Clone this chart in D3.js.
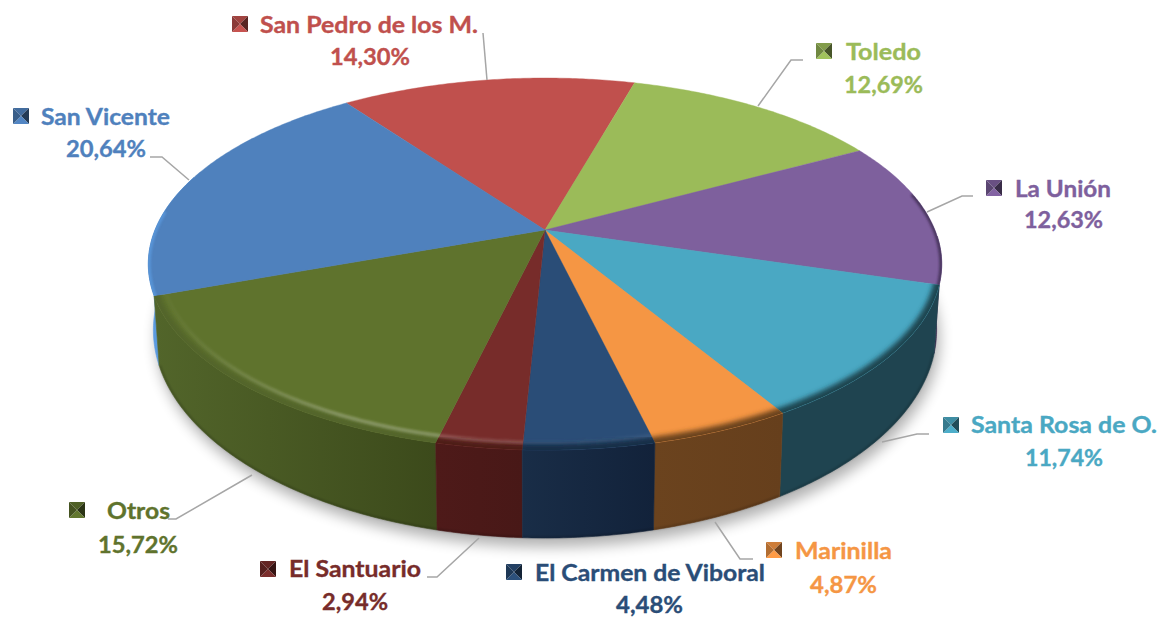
<!DOCTYPE html>
<html><head><meta charset="utf-8">
<script src="https://cdn.jsdelivr.net/npm/d3@7/dist/d3.min.js"></script>
<style>html,body{margin:0;background:#fff}svg{display:block}text{font-family:Lato,"Open Sans",sans-serif;font-weight:700;stroke-width:.35px}</style>
</head><body><svg id="c" width="1159" height="619"></svg>
<script>
// ---- data (clockwise, starting from San Pedro) ----
const categories = ["San Pedro de los M.","Toledo","La Unión","Santa Rosa de O.","Marinilla","El Carmen de Viboral","El Santuario","Otros","San Vicente"];
const values = [14.30,12.69,12.63,11.74,4.87,4.48,2.94,15.72,20.64];
const valueLabels = ["14,30%","12,69%","12,63%","11,74%","4,87%","4,48%","2,94%","15,72%","20,64%"];
const colors = ["#C0504D","#9BBB59","#7E609D","#4AA8C3","#F59644","#2A4D77","#772C2A","#5F732D","#4F81BD"];
// ---- wall / bevel styling per slice ----
const wallFrom = ["","","#3a2a4e","#1F4450","#6B431E","#192D47","#4E1A19","#52652A","#5B9BE0"];
const wallTo   = ["","","#3a2a4e","#1F4450","#663F1C","#12223A","#481817","#3C4A1B","#5B9BE0"];
const glow     = [0,0,0,0,0,0.05,0.16,0.24,0];
// ---- label layout: key x, key y, name x, name right, name baseline, value left, value right, value baseline ----
const layout = [
 [232,16,260,478,33,330,410,65],
 [816,43,846,921,60,844,923,93],
 [986,180,1015,1111,197,1024,1103,228],
 [943,417,971,1157,433,1025,1103,466],
 [766,542,795,892,559,810,877,593],
 [506,564,535,765,581,616,683,613],
 [260,561,289,421,577,322,388,610],
 [69,502,107,170,519,98,178,553],
 [13,108,41,170,125,66,146,157]
];
const leaders = [
 [[483,33],[487,80]],
 [[803,60],[791,60],[758,106]],
 [[973,196],[962,196],[927,212]],
 [[929,434],[917,434],[882,442]],
 [[753,559],[740,559],[715,522]],
 [[427,577],[437,577],[479,538]],
 [[168,519],[176,519],[252,475]],
 [[150,157],[162,157],[189,180]]
];
// ---- projection of the disc (perspective) ----
const persp = 0.183;
const topU = d3.scaleLinear().domain([-1,1]).range([545-390,545+390]);
const topV = d3.scaleLinear().domain([-1,1]).range([230-179.8,230+179.8]);
const botU = d3.scaleLinear().domain([-1,1]).range([545-385,545+385]);
const botV = d3.scaleLinear().domain([-1,1]).range([292-201,292+201]);
function proj(U,V,a,r=1){
  const u=r*Math.sin(a), v=-r*Math.cos(a), w=1-persp*v;
  return [U(0)+(U(u)-U(0))/w, V(0)+(V(v)-V(0))/w];
}
const T=(a,r)=>proj(topU,topV,a,r), B=(a,r)=>proj(botU,botV,a,r);
const arcSteps=(a0,a1)=>{const n=Math.max(2,Math.ceil(Math.abs(a1-a0)/0.01));return d3.range(n+1).map(i=>a0+(a1-a0)*i/n)};
const line=d3.line();
const rad=d=>d*Math.PI/180;

const start=rad(-35.8);
const slices=d3.pie().value(d=>d).sort(null).startAngle(start).endAngle(start+2*Math.PI)(values);
const svg=d3.select("#c");
const defs=svg.append("defs");
[["b1",1.1],["b2",2.4],["b8",7]].forEach(([id,s])=>defs.append("filter").attr("id",id)
  .attr("x","-20%").attr("y","-20%").attr("width","140%").attr("height","140%")
  .append("feGaussianBlur").attr("stdDeviation",s));
const gl=defs.append("linearGradient").attr("id","glowFade").attr("gradientUnits","userSpaceOnUse")
  .attr("x1",170).attr("x2",340).attr("y1",0).attr("y2",0);
gl.append("stop").attr("offset",0).attr("stop-color","#fff").attr("stop-opacity",.1);
gl.append("stop").attr("offset",1).attr("stop-color","#fff").attr("stop-opacity",1);

// shadow under the pie
svg.append("path").attr("d",line(arcSteps(0,2*Math.PI).map(a=>{const p=B(a,1);return [p[0]+3,p[1]+9]}))+"Z")
  .attr("fill","#000").attr("opacity",.3).attr("filter","url(#b8)");

// side walls
const visibleFrom=rad(92), visibleTo=rad(288);
const order=[8,7,2,3,4,6,5];
order.forEach(i=>{
  const s=slices[i];
  let a0=Math.max(s.startAngle,visibleFrom), a1=Math.min(s.endAngle,visibleTo);
  const g=defs.append("linearGradient").attr("id","w"+i).attr("gradientUnits","userSpaceOnUse")
    .attr("x1",Math.min(T(a0)[0],T(a1)[0])).attr("x2",Math.max(T(a0)[0],T(a1)[0])).attr("y1",0).attr("y2",0);
  g.append("stop").attr("offset",0).attr("stop-color",wallFrom[i]);
  g.append("stop").attr("offset",1).attr("stop-color",wallTo[i]);
  const ang=arcSteps(a0,a1);
  const pts=ang.map(a=>T(a)).concat(ang.slice().reverse().map(a=>B(a)));
  svg.append("path").attr("d",line(pts)+"Z").attr("fill",`url(#w${i})`).attr("stroke",`url(#w${i})`).attr("stroke-width",.6);
  if(i!==8&&i!==2) svg.append("path").attr("d",line(ang.map(a=>B(a,.998)))).attr("fill","none")
    .attr("stroke","#000").attr("stroke-opacity",.2).attr("stroke-width",2).attr("filter","url(#b1)");
});

// top face
const sliceD=s=>line([T(0,0)].concat(arcSteps(s.startAngle,s.endAngle).map(a=>T(a))))+"Z";
slices.forEach((s,i)=>{
  svg.append("path").attr("d",sliceD(s)).attr("fill",colors[i]).attr("stroke",colors[i]).attr("stroke-width",.4);
  defs.append("clipPath").attr("id","c"+i).append("path").attr("d",sliceD(s));
});
// bevel band along the rim
slices.forEach((s,i)=>{
  if(!wallFrom[i]) return;
  const g=svg.append("g").attr("clip-path",`url(#c${i})`);
  const thin=(i===2||i===8);
  const a0=i===2?rad(78):s.startAngle-.05, a1=i===8?rad(276):s.endAngle+.05;
  g.append("path").attr("d",line(arcSteps(a0,a1).map(a=>T(a)))).attr("fill","none")
    .attr("stroke",wallFrom[i]).attr("stroke-width",thin?5:12)
    .attr("opacity",thin?.75:1).attr("filter",thin?"url(#b1)":"url(#b2)");
  if(glow[i]>0) g.append("path").attr("d",line(arcSteps(a0,a1).map(a=>T(a,.972)))).attr("fill","none")
    .attr("stroke",i===7?"url(#glowFade)":"#fff").attr("stroke-opacity",glow[i]).attr("stroke-width",4).attr("filter","url(#b1)");
});

// leader lines
svg.append("g").selectAll("path").data(leaders).join("path").attr("d",d=>line(d))
  .attr("fill","none").attr("stroke","#A6A6A6").attr("stroke-width",1.5);

// legend keys with pyramid bevel, and labels
categories.forEach((name,i)=>{
  const [kx,ky,nx,nr,nb,vl,vr,vb]=layout[i], k=16, c=colors[i];
  const m=[kx+k/2,ky+k/2], tl=[kx,ky],tr=[kx+k,ky],br=[kx+k,ky+k],bl=[kx,ky+k];
  const key=svg.append("g");
  [[[tl,tr,m],d3.color(c).darker(.5)],[[tr,br,m],d3.color(c).darker(2.2)],
   [[br,bl,m],d3.color(c).brighter(.1)],[[bl,tl,m],d3.color(c).darker(.9)]].forEach(([p,f])=>
    key.append("path").attr("d",line(p)+"Z").attr("fill",f));
  svg.append("text").attr("x",nx).attr("y",nb).attr("fill",c).attr("stroke",c).attr("font-size",23)
    .attr("textLength",nr-nx).attr("lengthAdjust","spacingAndGlyphs").text(name);
  svg.append("text").attr("x",vl).attr("y",vb).attr("fill",c).attr("stroke",c).attr("font-size",23)
    .attr("textLength",vr-vl).attr("lengthAdjust","spacingAndGlyphs").text(valueLabels[i]);
});
</script></body></html>
